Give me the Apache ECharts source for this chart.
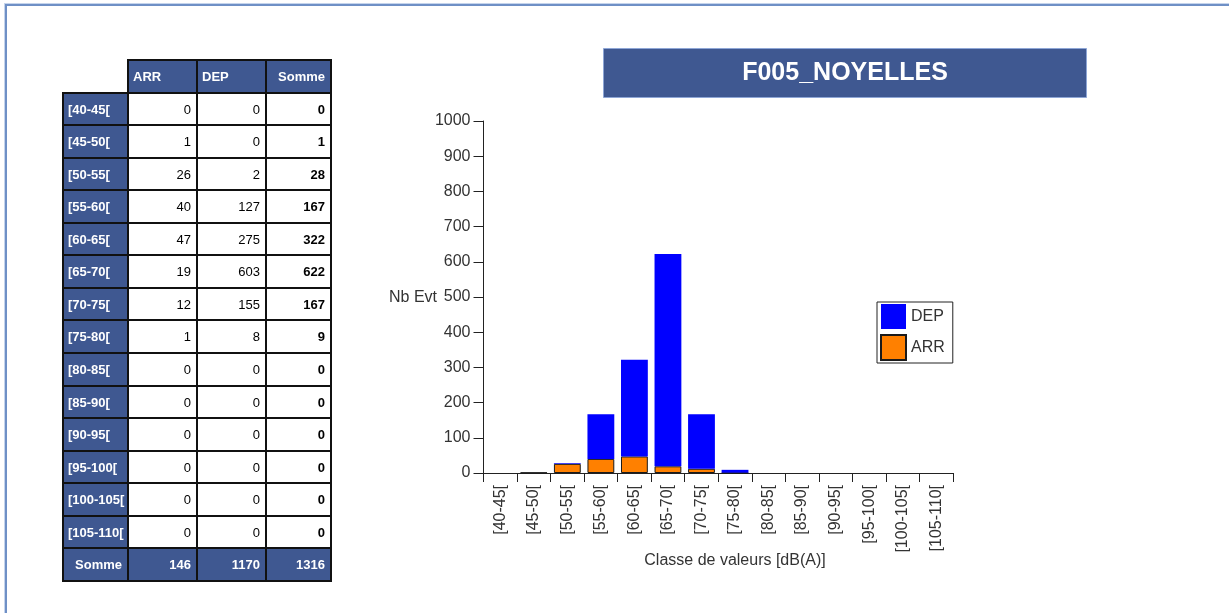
<!DOCTYPE html>
<html>
<head>
<meta charset="utf-8">
<script src="https://cdn.jsdelivr.net/npm/echarts@6/dist/echarts.min.js"></script>
<style>
  html, body { margin: 0; padding: 0; background: #ffffff; }
  #wrap { position: relative; width: 1229px; height: 613px; overflow: hidden; font-family: "Liberation Sans", Arial, sans-serif; }
  #chart { position: absolute; left: 0; top: 0; width: 1229px; height: 613px; }
  #frame { position: absolute; left: 5px; top: 4px; width: 1300px; height: 700px;
           border-top: 2px solid #6f90c6; border-left: 2px solid #6f90c6;
           box-shadow: -1px -1px 0 #c5d4ec; }
  #table { position: absolute; left: 0; top: 0; }
  .blk { position: absolute; background: #111; }
  .cell { position: absolute; box-sizing: border-box; font-size: 13px; display: flex; align-items: center; white-space: nowrap; }
  .hd { background: #3f5891; color: #fff; font-weight: bold; }
  .bd { background: #fff; color: #000; justify-content: flex-end; padding-right: 5px; }
</style>
</head>
<body>
<div id="wrap">
  <div id="frame"></div>
  <div id="chart"></div>
  <div id="table"></div>
</div>
<script>
// ---- data ----
const categories = ['[40-45[', '[45-50[', '[50-55[', '[55-60[', '[60-65[', '[65-70[', '[70-75[', '[75-80[', '[80-85[', '[85-90[', '[90-95[', '[95-100[', '[100-105[', '[105-110['];
const arrValues = [0, 1, 26, 40, 47, 19, 12, 1, 0, 0, 0, 0, 0, 0];
const depValues = [0, 0, 2, 127, 275, 603, 155, 8, 0, 0, 0, 0, 0, 0];
const sommeValues = [0, 1, 28, 167, 322, 622, 167, 9, 0, 0, 0, 0, 0, 0];
const columnHeaders = ['ARR', 'DEP', 'Somme'];
const totalLabel = 'Somme';
const totals = [146, 1170, 1316];
const yTicks = [0, 100, 200, 300, 400, 500, 600, 700, 800, 900, 1000];
const titleText = 'F005_NOYELLES';
const yAxisTitle = 'Nb Evt';
const xAxisTitle = 'Classe de valeurs [dB(A)]';

// ---- table (HTML) ----
(function buildTable() {
  const t = document.getElementById('table');
  const colX = [63, 128, 197, 266, 331];
  const top0 = 60, rowH = 32.56;
  const nRows = categories.length + 2; // header + data + total
  const rowY = i => Math.round(top0 + i * rowH);
  function blk(x, y, w, h) {
    const d = document.createElement('div'); d.className = 'blk';
    d.style.left = x + 'px'; d.style.top = y + 'px'; d.style.width = w + 'px'; d.style.height = h + 'px';
    t.appendChild(d);
  }
  function cell(c, r, text, cls, align, bold) {
    const x0 = colX[c], x1 = colX[c + 1], y0 = rowY(r), y1 = rowY(r + 1);
    const d = document.createElement('div'); d.className = 'cell ' + cls;
    d.style.left = (x0 + 1) + 'px'; d.style.top = (y0 + 1) + 'px';
    d.style.width = (x1 - x0 - 2) + 'px'; d.style.height = (y1 - y0 - 2) + 'px';
    if (align === 'left') { d.style.justifyContent = 'flex-start'; d.style.paddingLeft = '4px'; }
    if (align === 'right') { d.style.justifyContent = 'flex-end'; d.style.paddingRight = '5px'; }
    if (bold) d.style.fontWeight = 'bold';
    d.textContent = text;
    t.appendChild(d);
  }
  blk(colX[1] - 1, rowY(0) - 1, colX[4] - colX[1] + 2, rowY(1) - rowY(0) + 2);
  blk(colX[0] - 1, rowY(1) - 1, colX[4] - colX[0] + 2, rowY(nRows) - rowY(1) + 2);
  // header
  cell(1, 0, columnHeaders[0], 'hd', 'left', true);
  cell(2, 0, columnHeaders[1], 'hd', 'left', true);
  cell(3, 0, columnHeaders[2], 'hd', 'right', true);
  categories.forEach((c, i) => {
    const r = i + 1;
    cell(0, r, c, 'hd', 'left', true);
    cell(1, r, String(arrValues[i]), 'bd', 'right', false);
    cell(2, r, String(depValues[i]), 'bd', 'right', false);
    cell(3, r, String(sommeValues[i]), 'bd', 'right', true);
  });
  const rt = categories.length + 1;
  cell(0, rt, totalLabel, 'hd', 'right', true);
  totals.forEach((v, j) => cell(j + 1, rt, String(v), 'hd', 'right', true));
})();

// ---- chart ----
const chart = echarts.init(document.getElementById('chart'), null, { renderer: 'canvas' });
const font = '"Liberation Sans", Arial, sans-serif';
// zero-height bars are not drawn (no border line on the axis)
const hideZero = v => (v === 0 ? '-' : v);
chart.setOption({
  animation: false,
  backgroundColor: 'transparent',
  textStyle: { fontFamily: font },
  graphic: [
    { type: 'rect', shape: { x: 603.5, y: 48.5, width: 483, height: 49 },
      style: { fill: '#3f5891', stroke: '#8ea6d6', lineWidth: 1 } },
    { type: 'text', x: 845, y: 73,
      style: { text: titleText, fill: '#ffffff', font: 'bold 25px ' + font, textAlign: 'center', textVerticalAlign: 'middle' } },
    { type: 'text', x: 735, y: 561,
      style: { text: xAxisTitle, fill: '#333', font: '16px ' + font, textAlign: 'center', textVerticalAlign: 'middle' } },
    { type: 'text', x: 437, y: 298,
      style: { text: yAxisTitle, fill: '#333', font: '16px ' + font, textAlign: 'right', textVerticalAlign: 'middle' } }
  ],
  legend: {
    orient: 'vertical',
    left: 877, top: 302,
    data: ['DEP', 'ARR'],
    itemWidth: 25, itemHeight: 25, itemGap: 5, itemTextGap: 8,
    padding: [2, 8, 2, 3],
    borderColor: '#222', borderWidth: 1,
    icon: 'rect',
    textStyle: { fontSize: 16, color: '#333', fontFamily: font },
    selectedMode: false
  },
  grid: { left: 483.5, right: 276, top: 121, bottom: 140, containLabel: false },
  xAxis: {
    type: 'category',
    data: categories,
    boundaryGap: true,
    axisLine: { show: true, lineStyle: { color: '#222', width: 1 } },
    axisTick: { show: true, alignWithLabel: false, length: 9, lineStyle: { color: '#222' } },
    axisLabel: { rotate: 90, margin: 12, fontSize: 16, color: '#333', interval: 0, fontFamily: font },
    splitLine: { show: false }
  },
  yAxis: {
    type: 'value',
    min: yTicks[0], max: yTicks[yTicks.length - 1], interval: yTicks[1] - yTicks[0],
    axisLine: { show: true, lineStyle: { color: '#222', width: 1 } },
    axisTick: { show: true, length: 10, lineStyle: { color: '#222' } },
    axisLabel: { margin: 13, fontSize: 16, color: '#333', fontFamily: font, formatter: v => String(v) },
    splitLine: { show: false }
  },
  series: [
    { name: 'ARR', type: 'bar', stack: 'total', data: arrValues.map(hideZero), barWidth: '80%',
      itemStyle: { color: '#ff8000', borderColor: '#1a1a1a', borderWidth: 1 } },
    { name: 'DEP', type: 'bar', stack: 'total', data: depValues.map(hideZero), barWidth: '80%',
      itemStyle: { color: '#0000ff', borderWidth: 0 } }
  ]
});
</script>
</body>
</html>
